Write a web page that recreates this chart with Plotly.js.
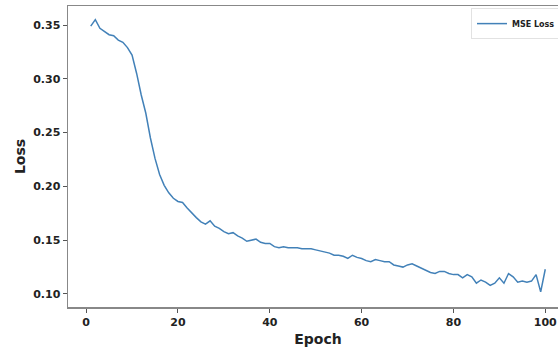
<!DOCTYPE html>
<html>
<head>
<meta charset="utf-8">
<script src="https://cdn.plot.ly/plotly-3.0.1.min.js"></script>
<style>
html,body{margin:0;padding:0;overflow:hidden;background:#fff;width:558px;height:349px;}
#chart{width:580px;height:349px;}
</style>
</head>
<body>
<div id="chart"></div>
<script>
const epochs = [];
for (let i = 1; i <= 100; i++) epochs.push(i);
const mseLoss = [
  0.349, 0.355, 0.347, 0.344, 0.341, 0.340, 0.336, 0.334, 0.329, 0.322,
  0.305, 0.285, 0.268, 0.245, 0.226, 0.211, 0.201, 0.194, 0.189, 0.186,
  0.185, 0.180, 0.175, 0.171, 0.167, 0.165, 0.168, 0.163, 0.161, 0.158,
  0.156, 0.157, 0.154, 0.152, 0.149, 0.150, 0.151, 0.148, 0.147, 0.147,
  0.144, 0.143, 0.144, 0.143, 0.143, 0.143, 0.142, 0.142, 0.142, 0.141,
  0.140, 0.139, 0.138, 0.136, 0.136, 0.135, 0.133, 0.136, 0.134, 0.133,
  0.131, 0.130, 0.132, 0.131, 0.130, 0.130, 0.127, 0.126, 0.125, 0.127,
  0.128, 0.126, 0.124, 0.122, 0.120, 0.119, 0.121, 0.121, 0.119, 0.118,
  0.118, 0.115, 0.118, 0.116, 0.110, 0.113, 0.111, 0.108, 0.110, 0.115,
  0.110, 0.119, 0.116, 0.111, 0.112, 0.111, 0.112, 0.118, 0.102, 0.123
];
const seriesName = 'MSE Loss';
const xTitle = 'Epoch';
const yTitle = 'Loss';

const tickFont = {family: 'DejaVu Sans', size: 11, color: '#222', weight: 'bold'};
const titleFont = {family: 'DejaVu Sans', size: 14, color: '#222', weight: 'bold'};

Plotly.newPlot('chart', [{
  x: epochs, y: mseLoss, type: 'scatter', mode: 'lines', name: seriesName,
  line: {color: '#4281b8', width: 1.5}
}], {
  width: 580, height: 349,
  margin: {l: 68, r: 12, t: 6, b: 42},
  paper_bgcolor: '#fff', plot_bgcolor: '#fff',
  showlegend: true,
  legend: {
    x: 0.806, y: 0.993, xanchor: 'left', yanchor: 'top',
    font: {family: 'DejaVu Sans', size: 8, color: '#222', weight: 'bold'},
    bgcolor: 'rgba(255,255,255,0.8)', bordercolor: '#e2e2e2', borderwidth: 1
  },
  xaxis: {
    range: [-3.95, 104.95], tick0: 0, dtick: 20,
    ticks: 'outside', ticklen: 4, tickwidth: 1, tickcolor: '#555',
    showline: true, linecolor: '#888', linewidth: 1.5, mirror: true,
    showgrid: false, zeroline: false, tickfont: tickFont,
    title: {text: xTitle, font: titleFont, standoff: 6}
  },
  yaxis: {
    range: [0.0879, 0.3677], tick0: 0.1, dtick: 0.05, tickformat: '.2f',
    ticks: 'outside', ticklen: 4, tickwidth: 1, tickcolor: '#555',
    showline: true, linecolor: '#888', linewidth: 1.5, mirror: true,
    showgrid: false, zeroline: false, tickfont: tickFont,
    title: {text: yTitle, font: titleFont, standoff: 4}
  }
}, {displayModeBar: false, staticPlot: true});
</script>
</body>
</html>
